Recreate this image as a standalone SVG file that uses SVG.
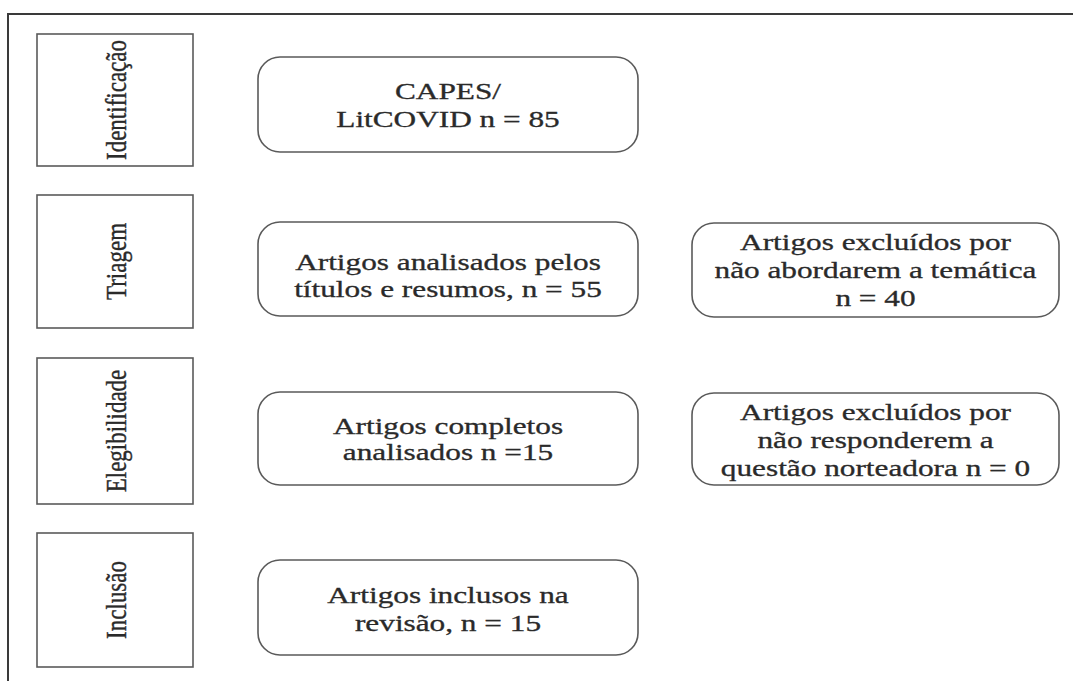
<svg xmlns="http://www.w3.org/2000/svg" width="1073" height="682" viewBox="0 0 1073 682">
<style>
.frame{fill:none;stroke:#3a3a3a;stroke-width:2}
.stage{fill:#fff;stroke:#5a5a5a;stroke-width:1.6}
.box{fill:#fff;stroke:#5a5a5a;stroke-width:1.6}
text{font-family:"Liberation Serif","Times New Roman",serif;font-size:23px;fill:#2a2a2a;stroke:#2a2a2a;stroke-width:0.3;text-anchor:middle}
</style>
<rect width="1073" height="682" fill="#fff"/>
<g id="frame"><path class="frame" d="M8 681 V14 H1073"/></g>
<g id="stage-identificacao"><rect class="stage" x="37" y="34" width="156" height="132"/><text transform="translate(126,100) rotate(-90) scale(1,1.32)">Identificação</text></g>
<g id="stage-triagem"><rect class="stage" x="37" y="195" width="156" height="133"/><text transform="translate(126,261.5) rotate(-90) scale(1,1.32)">Triagem</text></g>
<g id="stage-elegibilidade"><rect class="stage" x="37" y="358" width="156" height="146"/><text transform="translate(126,431) rotate(-90) scale(1,1.32)">Elegibilidade</text></g>
<g id="stage-inclusao"><rect class="stage" x="37" y="533" width="156" height="134"/><text transform="translate(126,600) rotate(-90) scale(1,1.32)">Inclusão</text></g>
<g id="node-capes"><rect class="box" x="258" y="57" width="380" height="95" rx="22"/>
<text transform="translate(448,99) scale(1.36,1)">CAPES/</text><text transform="translate(448,127) scale(1.36,1)">LitCOVID n = 85</text></g>
<g id="node-triagem"><rect class="box" x="258" y="222" width="380" height="94" rx="22"/>
<text transform="translate(448,270) scale(1.36,1)">Artigos analisados pelos</text><text transform="translate(448,297) scale(1.36,1)">títulos e resumos, n = 55</text></g>
<g id="node-excl1"><rect class="box" x="692" y="223" width="367" height="94" rx="22"/>
<text transform="translate(875.5,250) scale(1.36,1)">Artigos excluídos por</text><text transform="translate(875.5,278) scale(1.36,1)">não abordarem a temática</text><text transform="translate(875.5,306) scale(1.36,1)">n = 40</text></g>
<g id="node-elegib"><rect class="box" x="258" y="392" width="380" height="93" rx="22"/>
<text transform="translate(448,434) scale(1.36,1)">Artigos completos</text><text transform="translate(448,460) scale(1.36,1)">analisados n =15</text></g>
<g id="node-excl2"><rect class="box" x="692" y="393" width="367" height="92" rx="22"/>
<text transform="translate(875.5,420) scale(1.36,1)">Artigos excluídos por</text><text transform="translate(875.5,448) scale(1.36,1)">não responderem a</text><text transform="translate(875.5,476) scale(1.36,1)">questão norteadora n = 0</text></g>
<g id="node-inclusao"><rect class="box" x="258" y="560" width="380" height="95" rx="22"/>
<text transform="translate(448,603) scale(1.36,1)">Artigos inclusos na</text><text transform="translate(448,631) scale(1.36,1)">revisão, n = 15</text></g>
<g id="connectors"></g>
</svg>
